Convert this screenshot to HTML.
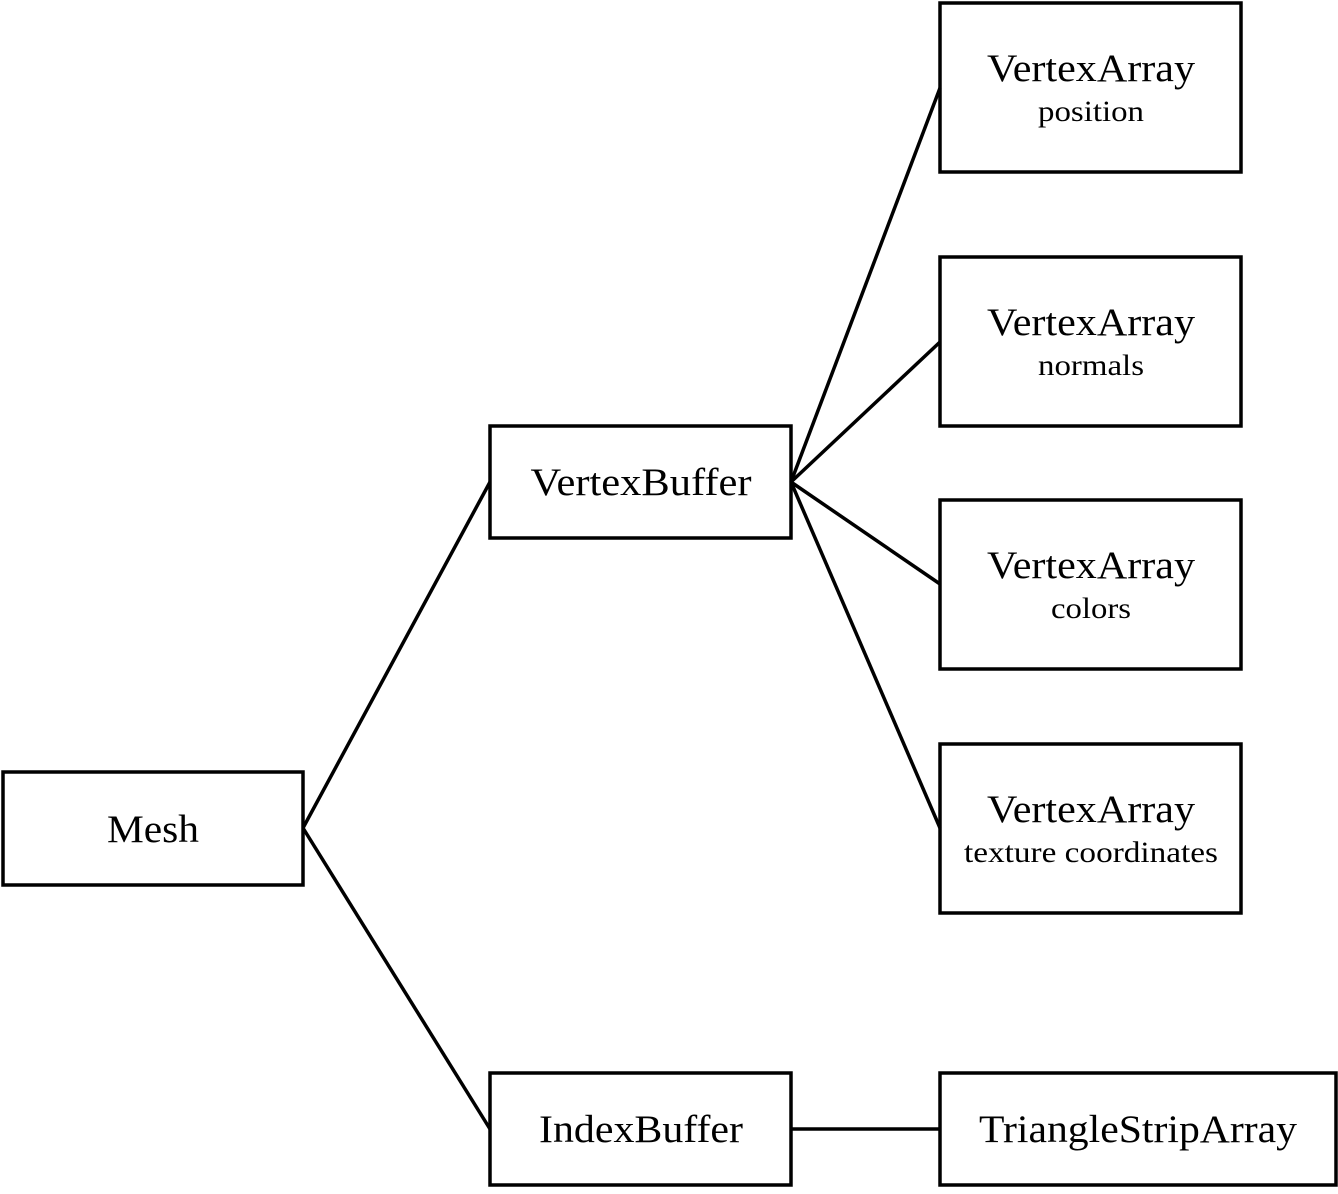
<!DOCTYPE html>
<html><head><style>html,body{margin:0;padding:0;background:#fff}</style></head>
<body>
<svg width="1338" height="1189" viewBox="0 0 1338 1189" xmlns="http://www.w3.org/2000/svg" font-family="'Liberation Serif', serif" fill="#000">
<g stroke="#000" stroke-width="3.5" fill="none">
<rect x="3" y="772" width="300" height="113"/>
<rect x="490" y="426" width="301" height="112"/>
<rect x="490" y="1073" width="301" height="112"/>
<rect x="940" y="3" width="301" height="169"/>
<rect x="940" y="257" width="301" height="169"/>
<rect x="940" y="500" width="301" height="169"/>
<rect x="940" y="744" width="301" height="169"/>
<rect x="940" y="1073" width="396" height="112"/>
<line x1="303" y1="828" x2="490" y2="482"/>
<line x1="303" y1="828" x2="490" y2="1129"/>
<line x1="791" y1="482" x2="940" y2="88"/>
<line x1="791" y1="482" x2="940" y2="342"/>
<line x1="791" y1="482" x2="940" y2="584"/>
<line x1="791" y1="482" x2="940" y2="828"/>
<line x1="791" y1="1129" x2="940" y2="1129"/>
</g>
<g text-anchor="middle" font-size="39">
<text x="153" y="842" textLength="92" lengthAdjust="spacingAndGlyphs">Mesh</text>
<text x="641" y="495" textLength="221" lengthAdjust="spacingAndGlyphs">VertexBuffer</text>
<text x="641" y="1142" textLength="204" lengthAdjust="spacingAndGlyphs">IndexBuffer</text>
<text x="1138" y="1142" textLength="318" lengthAdjust="spacingAndGlyphs">TriangleStripArray</text>
<text x="1091" y="81" textLength="208" lengthAdjust="spacingAndGlyphs">VertexArray</text>
<text x="1091" y="335" textLength="208" lengthAdjust="spacingAndGlyphs">VertexArray</text>
<text x="1091" y="578" textLength="208" lengthAdjust="spacingAndGlyphs">VertexArray</text>
<text x="1091" y="822" textLength="208" lengthAdjust="spacingAndGlyphs">VertexArray</text>
</g>
<g text-anchor="middle" font-size="30">
<text x="1091" y="121" textLength="106" lengthAdjust="spacingAndGlyphs">position</text>
<text x="1091" y="375" textLength="106" lengthAdjust="spacingAndGlyphs">normals</text>
<text x="1091" y="618" textLength="80" lengthAdjust="spacingAndGlyphs">colors</text>
<text x="1091" y="862" textLength="254" lengthAdjust="spacingAndGlyphs">texture coordinates</text>
</g>
</svg>
</body></html>
